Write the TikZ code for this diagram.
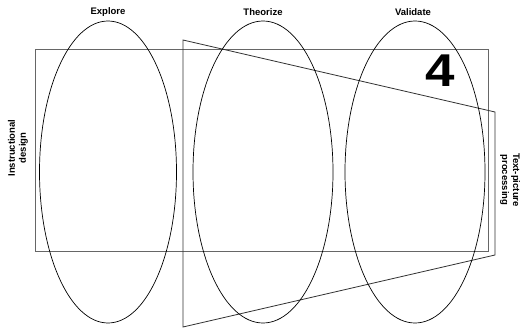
\documentclass[tikz,border=0pt]{standalone}
\usepackage{fontspec}
\setmainfont{Liberation Sans}
\begin{document}
\begin{tikzpicture}[x=1pt,y=-1pt,
  lbl/.style={font=\bfseries\fontsize{9.5}{11}\selectfont, inner sep=0pt, align=center},
  ell/.style={draw=black, line width=0.7pt},
  frame/.style={draw=black!60, line width=0.9pt}]
\useasboundingbox (0,0) rectangle (527,329);
% rectangle
\draw[frame] (35,49) rectangle (488,251);
% trapezoid
\coordinate (t1) at (183,40);
\coordinate (t2) at (495,112);
\coordinate (t3) at (495,255);
\coordinate (t4) at (183,327);
\draw[draw=black!80, line width=0.8pt] (t1) -- (t2) -- (t3) -- (t4) -- cycle;
% ellipses
\draw[ell] (108,172) ellipse [x radius=68.5, y radius=151];
\draw[ell] (263,172) ellipse [x radius=70, y radius=151];
\draw[ell] (415,172) ellipse [x radius=70, y radius=151];
% labels
\node[lbl] (explore) at (108,12) {Explore};
\node[lbl] (theorize) at (263,12) {Theorize};
\node[lbl] (validate) at (413,12) {Validate};
\node[font=\bfseries\fontsize{46}{46}\selectfont, inner sep=0pt, xscale=1.15] (four) at (440,71) {4};
\node[lbl, rotate=90] (instr) at (18,148) {Instructional\\design};
\node[lbl, rotate=-90] (tpp) at (510,180) {Text-picture\\processing};
\end{tikzpicture}
\end{document}
